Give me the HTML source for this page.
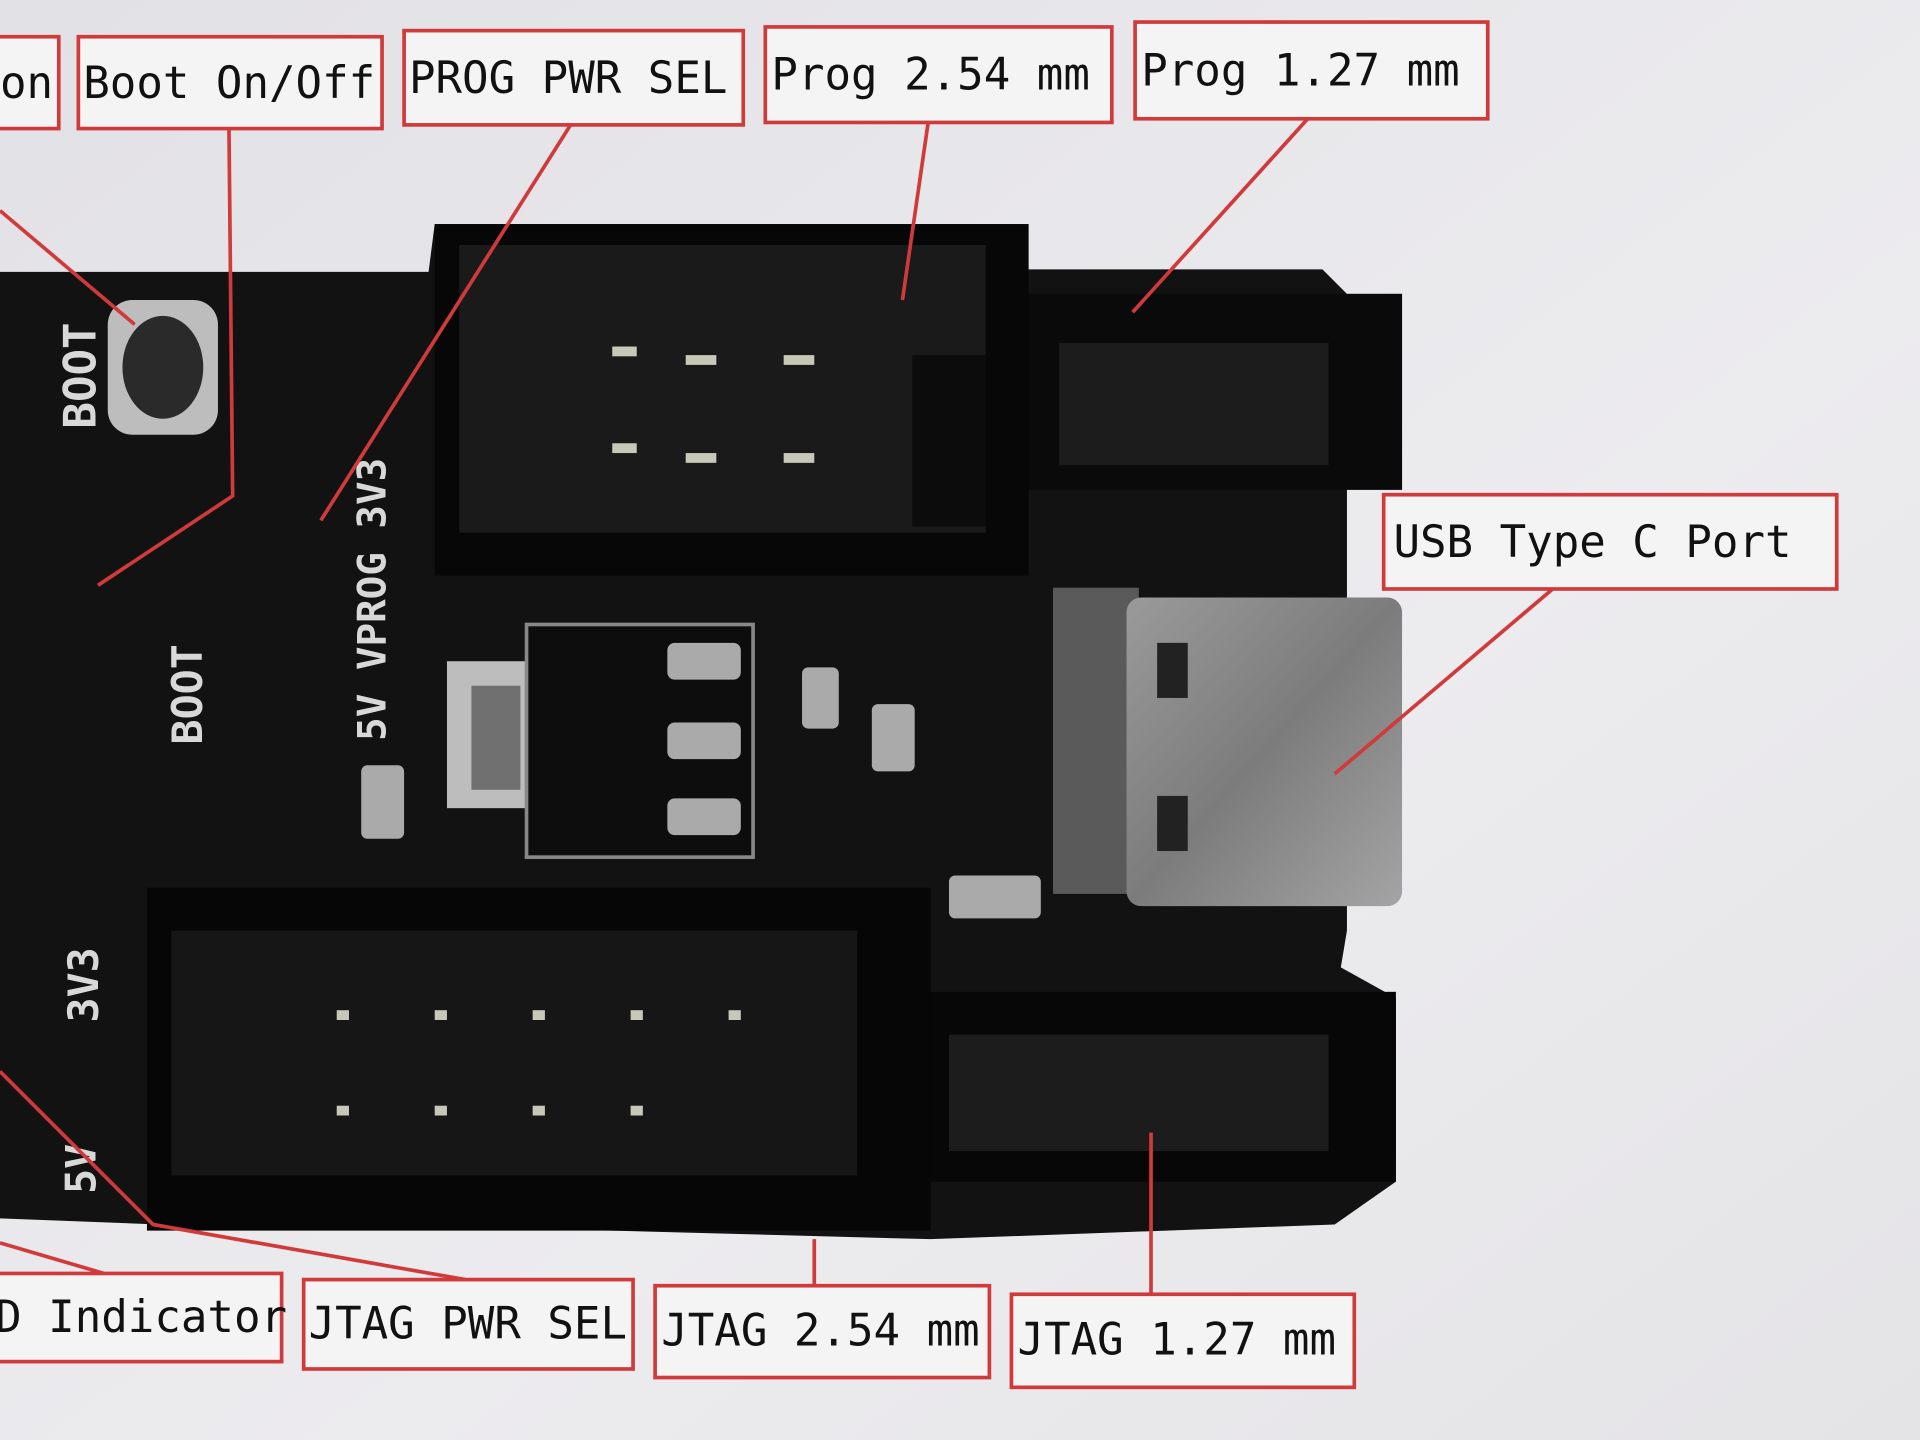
<!DOCTYPE html>
<html><head><meta charset="utf-8"><style>
html,body{margin:0;padding:0;background:#e6e6e8;}
svg{display:block}
text{font-family:"DejaVu Sans Mono","Liberation Mono",monospace;}
</style></head><body>
<svg width="1920" height="1440" viewBox="0 0 1568 1176" xmlns="http://www.w3.org/2000/svg">
<defs>
<linearGradient id="bg" x1="0" y1="0" x2="1" y2="1">
<stop offset="0" stop-color="#e2e1e6"/><stop offset="0.6" stop-color="#ecebee"/><stop offset="1" stop-color="#e4e3e6"/></linearGradient>
<linearGradient id="usb" x1="0" y1="0" x2="1" y2="1">
<stop offset="0" stop-color="#9a9a9a"/><stop offset="0.5" stop-color="#7c7c7c"/><stop offset="1" stop-color="#a4a4a4"/></linearGradient>
</defs>
<rect width="1568" height="1176" fill="url(#bg)"/>
<!-- board -->
<path d="M0 222 L350 222 L355 183 L840 183 L840 220 L1080 220 L1100 240 L1145 240 L1145 400 L1100 400 L1100 760 L1095 790 L1140 815 L1140 965 L1090 1000 L760 1012 L500 1005 L360 1003 L130 1000 L0 995 Z" fill="#121213"/>
<rect x="355" y="183" width="485" height="287" fill="#070707"/>
<rect x="375" y="200" width="430" height="235" fill="#1a1a1a"/>
<rect x="745" y="290" width="60" height="140" fill="#0c0c0c"/>
<rect x="840" y="240" width="305" height="160" fill="#0a0a0a"/>
<rect x="865" y="280" width="220" height="100" fill="#1c1c1c"/>
<rect x="120" y="725" width="640" height="280" fill="#060606"/>
<rect x="140" y="760" width="560" height="200" fill="#161616"/>
<rect x="760" y="810" width="380" height="155" fill="#070707"/>
<rect x="775" y="845" width="310" height="95" fill="#1c1c1c"/>
<!-- pins -->
<g fill="#c8c8b8">
<rect x="500" y="283" width="20" height="8"/><rect x="560" y="290" width="25" height="8"/><rect x="640" y="290" width="25" height="8"/>
<rect x="500" y="362" width="20" height="8"/><rect x="560" y="370" width="25" height="8"/><rect x="640" y="370" width="25" height="8"/>
<rect x="275" y="825" width="10" height="8"/><rect x="355" y="825" width="10" height="8"/><rect x="435" y="825" width="10" height="8"/><rect x="515" y="825" width="10" height="8"/><rect x="595" y="825" width="10" height="8"/>
<rect x="275" y="903" width="10" height="8"/><rect x="355" y="903" width="10" height="8"/><rect x="435" y="903" width="10" height="8"/><rect x="515" y="903" width="10" height="8"/>
</g>
<!-- button -->
<rect x="88" y="245" width="90" height="110" rx="20" fill="#bdbdbd"/>
<ellipse cx="133" cy="300" rx="33" ry="42" fill="#2a2a2a"/>
<!-- regulator -->
<rect x="365" y="540" width="80" height="120" fill="#bdbdbd"/>
<rect x="385" y="560" width="40" height="85" fill="#707070"/>
<rect x="430" y="510" width="185" height="190" fill="#0d0d0d" stroke="#888" stroke-width="3"/>
<g fill="#aaa"><rect x="545" y="525" width="60" height="30" rx="6"/><rect x="545" y="590" width="60" height="30" rx="6"/><rect x="545" y="652" width="60" height="30" rx="6"/>
<rect x="655" y="545" width="30" height="50" rx="5"/><rect x="712" y="575" width="35" height="55" rx="5"/><rect x="295" y="625" width="35" height="60" rx="5"/>
<rect x="775" y="715" width="75" height="35" rx="5"/></g>
<!-- USB C -->
<rect x="860" y="480" width="70" height="250" fill="#5a5a5a"/>
<rect x="920" y="488" width="225" height="252" rx="12" fill="url(#usb)"/>
<rect x="945" y="525" width="25" height="45" fill="#222"/><rect x="945" y="650" width="25" height="45" fill="#222"/>
<!-- silk text -->
<g fill="#d8d8d8" font-weight="bold">
<text x="0" y="0" font-size="36" transform="translate(78 350) rotate(-90)">BOOT</text>
<text x="0" y="0" font-size="34" transform="translate(165 608) rotate(-90)">BOOT</text>
<text x="0" y="0" font-size="32" transform="translate(315 605) rotate(-90)">5V VPROG 3V3</text>
<text x="0" y="0" font-size="34" transform="translate(80 835) rotate(-90)">3V3</text>
<text x="0" y="0" font-size="34" transform="translate(78 975) rotate(-90)">5V</text>
</g>
<!-- connectors -->
<g stroke="#d03a3a" stroke-width="3" fill="none">
<path d="M0 172 L110 265"/>
<path d="M187 105 L190 405 L80 478"/>
<path d="M466 102 L262 425"/>
<path d="M758 100 L737 245"/>
<path d="M1068 97 L925 255"/>
<path d="M1268 481 L1090 632"/>
<path d="M0 1015 L85 1040"/>
<path d="M0 875 L125 1000 L380 1045"/>
<path d="M665 1050 L665 1012"/>
<path d="M940 1057 L940 925"/>
</g>
<!-- labels -->
<g stroke="#d03a3a" stroke-width="3" fill="#f4f4f4">
<rect x="-5" y="30" width="53" height="75"/>
<rect x="64" y="30" width="248" height="75"/>
<rect x="330" y="25" width="277" height="77"/>
<rect x="625" y="22" width="283" height="78"/>
<rect x="927" y="18" width="288" height="79"/>
<rect x="1130" y="404" width="370" height="77"/>
<rect x="-5" y="1040" width="235" height="72"/>
<rect x="248" y="1045" width="269" height="73"/>
<rect x="535" y="1050" width="273" height="75"/>
<rect x="826" y="1057" width="280" height="76"/>
</g>
<g fill="#111" font-size="36">
<text x="0" y="80">on</text>
<text x="68" y="80">Boot On/Off</text>
<text x="334" y="76">PROG PWR SEL</text>
<text x="630" y="73">Prog 2.54 mm</text>
<text x="932" y="70">Prog 1.27 mm</text>
<text x="1138" y="455">USB Type C Port</text>
<text x="-4" y="1088">D Indicator</text>
<text x="252" y="1093">JTAG PWR SEL</text>
<text x="540" y="1099">JTAG 2.54 mm</text>
<text x="831" y="1106">JTAG 1.27 mm</text>
</g>
</svg>
</body></html>
